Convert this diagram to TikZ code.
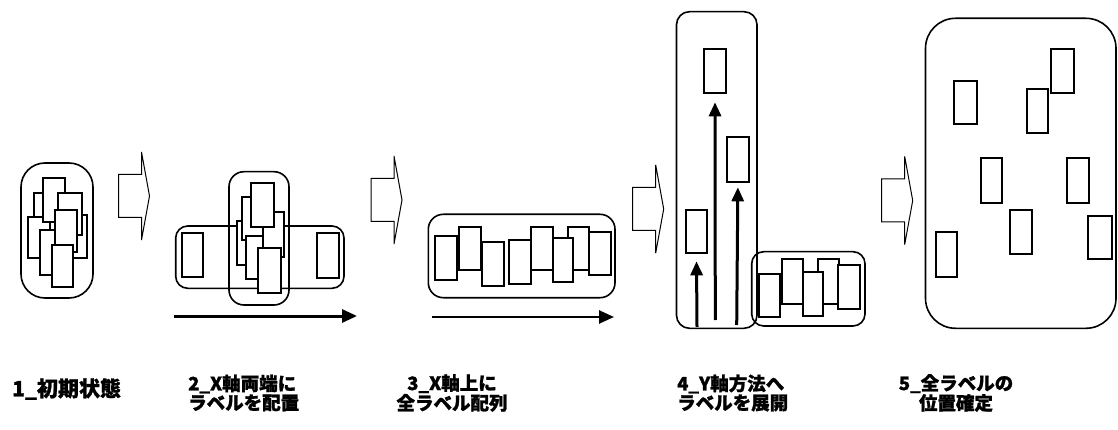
\documentclass[tikz,border=0pt]{standalone}
\usepackage{fontspec}
\newfontfamily\jp{Noto Sans CJK JP}[BoldFeatures={FakeBold=1.2}]
\usetikzlibrary{arrows.meta}
\tikzset{
  grp/.style={draw, line width=1.6pt, inner sep=0pt, outer sep=0pt},
  lbl/.style={draw, fill=white, line width=2.2pt, inner sep=0pt, outer sep=0pt},
  blk/.style={draw, line width=1pt, line join=miter},
  harrow/.style={line width=3pt, -{Triangle[length=15pt,width=13pt]}},
  varrow/.style={line width=3pt, -{Triangle[length=14pt,width=12pt]}},
  caption/.style={font=\jp\bfseries\fontsize{18.5pt}{15.5pt}\selectfont, inner sep=0pt},
  bigcaption/.style={font=\jp\bfseries\fontsize{21pt}{16pt}\selectfont, inner sep=0pt}
}
\newcommand\lr[5]{\node[lbl, anchor=north west, minimum width={(#4-#2)*1pt}, minimum height={(#5-#3)*1pt}] (#1) at (#2,#3) {};}
\newcommand\gr[6]{\node[grp, rounded corners=#6pt, anchor=north west, minimum width={(#4-#2)*1pt}, minimum height={(#5-#3)*1pt}] (#1) at (#2,#3) {};}
\newcommand\blkarrow[2]{\draw[blk] (#1,#2) ++(0,-21.5) -- ++(23,0) -- ++(0,-22.5) -- ++(8,44) -- ++(-8,44) -- ++(0,-22.5) -- ++(-23,0) -- cycle;}
\begin{document}
\begin{tikzpicture}[x=1pt,y=-1pt]
\useasboundingbox (0,0) rectangle (1118,430);
% ---------- stage 1
\gr{g1}{21}{163}{93}{298}{24}
\lr{a1}{34.3}{192.7}{56.3}{236}
\lr{a2}{28.3}{216.7}{50.3}{258.3}
\lr{a3}{43.3}{178.3}{65}{221.7}
\lr{a4}{65}{215}{87.3}{258.3}
\lr{a5}{58.3}{192.7}{81.7}{235}
\lr{a6}{40}{230}{62}{275}
\lr{a7}{55}{210}{76.7}{251.7}
\lr{a8}{51.7}{245}{72.7}{286.7}
\blkarrow{118.5}{196}
% ---------- stage 2
\gr{g2v}{229}{171.7}{289}{305}{15}
\gr{g2h}{175.7}{226}{344}{288.3}{12}
\lr{b1}{182.3}{232.7}{203.3}{276.7}
\lr{b2}{316.7}{232.7}{339.3}{277.7}
\lr{s3}{236.7}{220.7}{258}{265}
\lr{s2}{241.7}{196.7}{263}{240}
\lr{s5}{246}{236}{267}{279}
\lr{s4}{263.3}{211.7}{284}{256.7}
\lr{s1}{251}{182.7}{274}{226.7}
\lr{s6}{257.7}{248.3}{280.7}{292.7}
\coordinate (h2s) at (174,316);
\coordinate (h2e) at (357,316);
\draw[harrow] (h2s) -- (h2e);
\blkarrow{371}{200}
% ---------- stage 3
\gr{g3}{428.3}{214.3}{615}{297.7}{15}
\lr{c1}{435}{236}{457.3}{280}
\lr{c2}{459}{227.3}{480.7}{270}
\lr{c3}{482.3}{242.3}{504.3}{286}
\lr{c4}{509}{240}{531}{284}
\lr{c5}{531}{227.3}{552.7}{270}
\lr{c7}{567.7}{227.3}{589.3}{270}
\lr{c6}{552.7}{238.3}{573.3}{281.7}
\lr{c8}{589.3}{231.7}{610.7}{275}
\coordinate (h3s) at (432,317);
\coordinate (h3e) at (614,317);
\draw[harrow, line width=2.5pt] (h3s) -- (h3e);
\blkarrow{632.7}{209}
% ---------- stage 4
\gr{g4}{676.5}{11.7}{757}{328.3}{13}
\lr{d1}{704}{49.3}{726}{93.3}
\lr{d2}{726.7}{137.3}{749}{182.3}
\lr{d3}{685.7}{210}{707.3}{253.3}
\coordinate (v1) at (697,327);
\coordinate (v2) at (715.3,320);
\coordinate (v3) at (736.7,325);
\draw[varrow] (v1) -- ([yshift=-8pt]d3.south);
\draw[varrow] (v2) -- ([yshift=-9pt]d1.south);
\draw[varrow] (v3) -- ([yshift=-5pt]d2.south);
\gr{g4b}{751.7}{251.7}{865}{326}{12}
\lr{e1}{759.3}{274.3}{780}{316.7}
\lr{e2}{782.3}{259.3}{803.3}{304}
\lr{e4}{818.3}{259.3}{839}{304}
\lr{e3}{802.7}{272.3}{823.3}{316}
\lr{e5}{838.3}{265}{860}{309.3}
\blkarrow{881.7}{200.5}
% ---------- stage 5
\gr{g5}{925.5}{18.3}{1116}{328.3}{30}
\lr{f1}{954.3}{80.7}{977.3}{124}
\lr{f2}{1051}{49.3}{1074.3}{92.7}
\lr{f3}{1027.3}{89.3}{1048.3}{133.3}
\lr{f4}{980.7}{158.3}{1002.3}{202.7}
\lr{f5}{1066.7}{158.3}{1089}{202.7}
\lr{f6}{1010}{210}{1031.7}{254}
\lr{f7}{1088.3}{216}{1111.7}{259.3}
\lr{f8}{935.7}{231.7}{957.3}{277.3}
% ---------- captions
\node[bigcaption, anchor=west] (t1) at (12,389) {1\_初期状態};
\node[caption, anchor=west, align=left] (t2) at (188,393) {2\_X軸両端に\\ラベルを配置};
\node[caption, align=center] (t3) at (452,393) {3\_X軸上に\\全ラベル配列};
\node[caption, anchor=west, align=left] (t4) at (677,393) {4\_Y軸方法へ\\ラベルを展開};
\node[caption, align=center] (t5) at (956,393) {5\_全ラベルの\\位置確定};
\end{tikzpicture}
\end{document}
